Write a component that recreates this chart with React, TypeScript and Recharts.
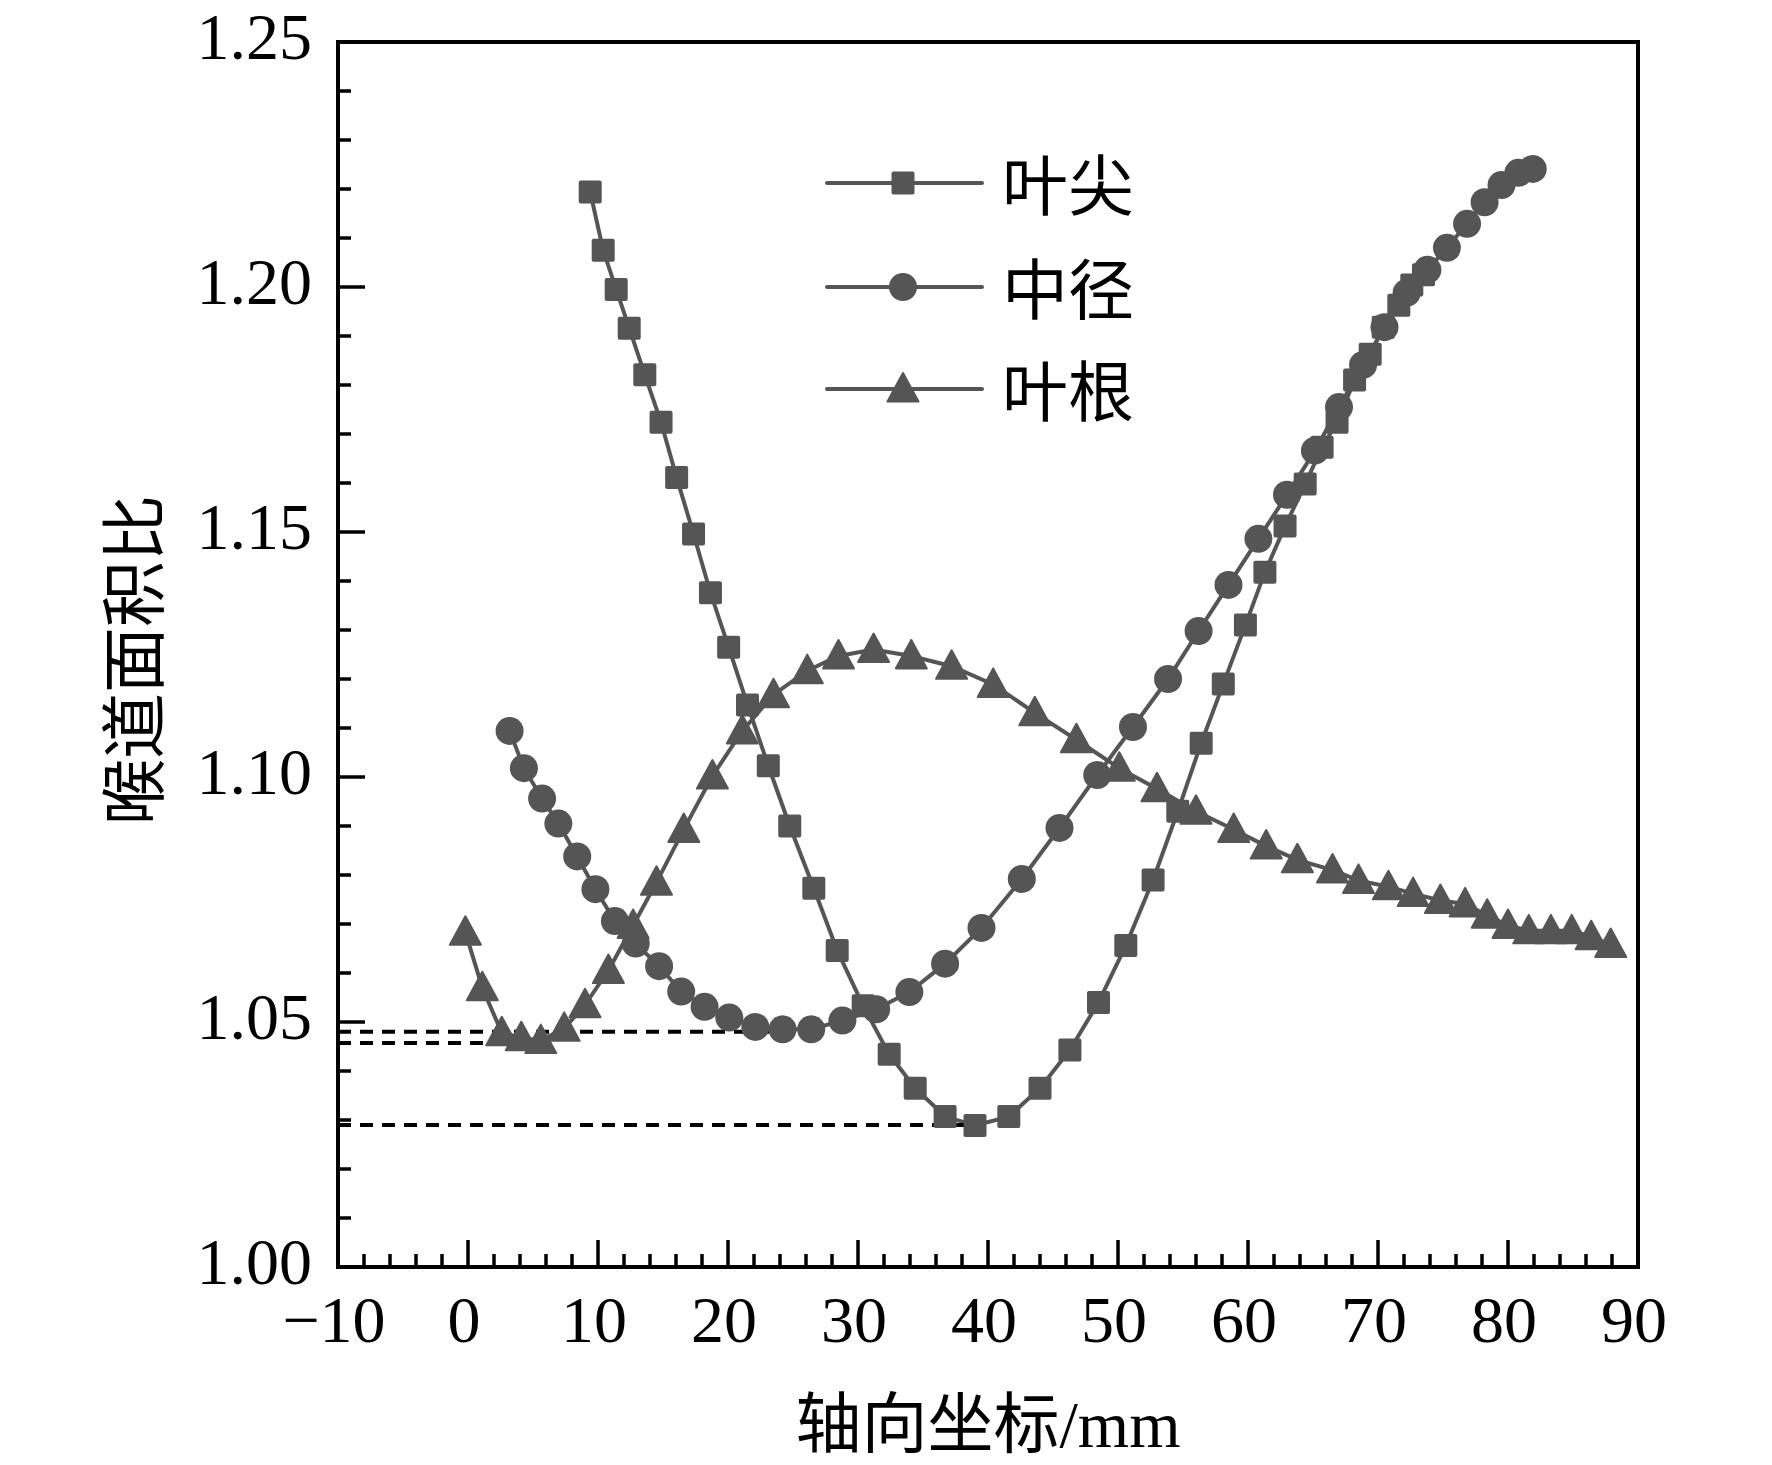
import React from "react";
import {
  LineChart,
  Line,
  XAxis,
  YAxis,
  ReferenceArea,
  Customized,
} from "recharts";

// 叶尖 (squares)
const tipX = [
  9.4, 10.4, 11.4, 12.4, 13.6, 14.85, 16.05, 17.35, 18.65, 20.05, 21.5, 23.1,
  24.75, 26.6, 28.4, 30.4, 32.4, 34.4, 36.7, 39.0, 41.6, 44.0, 46.3, 48.5,
  50.6, 52.7, 54.6, 56.4, 58.1, 59.8, 61.3, 62.85, 64.4, 65.7, 66.85, 68.2,
  69.4, 70.4, 71.6, 72.6, 73.5,
];
const tipY = [
  1.2194, 1.2075, 1.1995, 1.1916, 1.1821, 1.1724, 1.1611, 1.1496, 1.1376,
  1.1265, 1.1147, 1.1023, 1.09, 1.0773, 1.0646, 1.0533, 1.0434, 1.0365,
  1.0307, 1.0289, 1.0307, 1.0365, 1.0443, 1.054, 1.0656, 1.079, 1.093,
  1.1069, 1.119, 1.131, 1.1418, 1.1512, 1.1598, 1.1673, 1.1724, 1.181,
  1.1863, 1.1918, 1.1963, 1.2004, 1.2025,
];

// 中径 (circles)
const midX = [
  3.2, 4.3, 5.7, 6.95, 8.4, 9.8, 11.3, 12.9, 14.7, 16.4, 18.2, 20.1, 22.1,
  24.2, 26.4, 28.8, 31.4, 33.95, 36.7, 39.5, 42.6, 45.5, 48.4, 51.15, 53.85,
  56.2, 58.5, 60.8, 63.0, 65.15, 67.0, 68.85, 70.5, 72.2, 73.8, 75.3, 76.85,
  78.2, 79.5, 80.8, 81.9,
];
const midY = [
  1.1094, 1.1018, 1.0956, 1.0905, 1.0838, 1.0771, 1.0706, 1.066, 1.0614,
  1.0562, 1.0531, 1.0509, 1.049, 1.0485, 1.0485, 1.0503, 1.0526, 1.0561,
  1.0619, 1.0692, 1.0792, 1.0896, 1.1004, 1.1102, 1.12, 1.1298, 1.1392,
  1.1486, 1.1576, 1.1666, 1.1755, 1.1841, 1.1918, 1.1988, 1.2035, 1.208,
  1.2129, 1.2173, 1.2208, 1.2233, 1.2241,
];

// 叶根 (triangles)
const rootX = [
  -0.2, 1.1, 2.6, 4.1, 5.6, 7.4, 9.0, 10.8, 12.7, 14.5, 16.6, 18.8, 21.1,
  23.5, 26.1, 28.5, 31.2, 34.1, 37.2, 40.4, 43.6, 46.8, 50.1, 53.0, 56.0,
  58.9, 61.4, 63.8, 66.5, 68.5, 70.8, 72.7, 74.8, 76.7, 78.4, 80.0, 81.6,
  83.3, 84.9, 86.4, 87.9,
];
const rootY = [
  1.0683, 1.057, 1.0478, 1.0468, 1.0462, 1.0487, 1.0535, 1.0605, 1.0697,
  1.0785, 1.0893, 1.1002, 1.1094, 1.1168, 1.1217, 1.1247, 1.126, 1.1247,
  1.1226, 1.1189, 1.1131, 1.1076, 1.1018, 1.0976, 1.093, 1.0893, 1.0859,
  1.0831, 1.081, 1.0789, 1.0776, 1.0762, 1.0748, 1.0741, 1.0718, 1.0697,
  1.0686, 1.0686, 1.0686, 1.0674, 1.0658,
];

// dashed guide lines: level and where they stop
const guideLevels = [1.048, 1.0457, 1.029];
const guideEnds = [24.2, 5.3, 39.1];

const xMajor = [-10, 0, 10, 20, 30, 40, 50, 60, 70, 80, 90];
const yMajor = [1.0, 1.05, 1.1, 1.15, 1.2, 1.25];

const seriesNames = ["叶尖", "中径", "叶根"];

const GRAY = "#555555";
const FONT = "'Liberation Serif', 'Noto Sans CJK SC', serif";

const zip = (xs: number[], ys: number[]) =>
  xs.map((x, i) => ({ x, y: ys[i] }));

const tipData = zip(tipX, tipY);
const midData = zip(midX, midY);
const rootData = zip(rootX, rootY);

// minor ticks between the labelled ones
const xTicks: number[] = [];
xMajor.forEach((v, i) => {
  xTicks.push(v);
  if (i < xMajor.length - 1) for (let k = 1; k < 5; k++) xTicks.push(v + k * 2);
});
const yTicks: number[] = [];
yMajor.forEach((v, i) => {
  yTicks.push(v);
  if (i < yMajor.length - 1)
    for (let k = 1; k < 5; k++) yTicks.push(Math.round((v + k * 0.01) * 100) / 100);
});

const isMajorY = (v: number) => yMajor.some((m) => Math.abs(m - v) < 1e-6);

function XTick({ x, y, payload }: any) {
  const v = payload.value;
  const major = xMajor.includes(v);
  return (
    <g>
      <line x1={x} x2={x} y1={y} y2={y - (major ? 27 : 13)} stroke="#000" strokeWidth={3.5} />
      {major && (
        <text x={x - 4} y={y + 75} textAnchor="middle" fontFamily={FONT} fontSize={66} fill="#000">
          {v < 0 ? `\u2212${Math.abs(v)}` : v}
        </text>
      )}
    </g>
  );
}

function YTick({ x, y, payload }: any) {
  const v = payload.value;
  const major = isMajorY(v);
  return (
    <g>
      <line x1={x} x2={x + (major ? 27 : 13)} y1={y} y2={y} stroke="#000" strokeWidth={3.5} />
      {major && (
        <text x={x - 26} y={y + 17} textAnchor="end" fontFamily={FONT} fontSize={66} fill="#000">
          {v.toFixed(2)}
        </text>
      )}
    </g>
  );
}

const Square = ({ cx, cy }: any) => (
  <rect x={cx - 11.5} y={cy - 11.5} width={23} height={23} rx={2} fill={GRAY} />
);
const Circle = ({ cx, cy }: any) => <circle cx={cx} cy={cy} r={14} fill={GRAY} />;
const Triangle = ({ cx, cy }: any) => (
  <polygon
    points={`${cx},${cy - 16} ${cx - 15.5},${cy + 12.5} ${cx + 15.5},${cy + 12.5}`}
    fill={GRAY}
    stroke={GRAY}
    strokeWidth={2}
    strokeLinejoin="round"
  />
);

const markers = [Square, Circle, Triangle];

function LegendBox() {
  const rows = [183, 287, 389];
  return (
    <g>
      {seriesNames.map((name, i) => {
        const M = markers[i];
        return (
          <g key={name}>
            <line x1={827} x2={982} y1={rows[i]} y2={rows[i]} stroke={GRAY} strokeWidth={4} strokeLinecap="round" />
            <M cx={903} cy={rows[i]} />
            <text x={1002} y={rows[i] + 27} fontFamily={FONT} fontSize={66} fill="#000">
              {name}
            </text>
          </g>
        );
      })}
    </g>
  );
}

function AxisTitles() {
  return (
    <g>
      <text x={988} y={1447} textAnchor="middle" fontFamily={FONT} fontSize={66} fill="#000">
        轴向坐标/mm
      </text>
      <text
        x={158}
        y={660}
        textAnchor="middle"
        fontFamily={FONT}
        fontSize={66}
        fill="#000"
        transform="rotate(-90 158 660)"
      >
        喉道面积比
      </text>
    </g>
  );
}

export default function App() {
  return (
    <div style={{ position: "absolute", left: 0, top: 0, background: "#fff" }}>
      <LineChart
        width={1772}
        height={1465}
        margin={{ top: 42, right: 134, bottom: 0, left: 0 }}
      >
        <XAxis
          type="number"
          dataKey="x"
          domain={[-10, 90]}
          ticks={xTicks}
          interval={0}
          height={198}
          tickSize={0}
          tickMargin={0}
          tick={<XTick />}
          axisLine={{ stroke: "#000", strokeWidth: 4 }}
          allowDataOverflow
        />
        <YAxis
          type="number"
          domain={[1.0, 1.25]}
          ticks={yTicks}
          interval={0}
          width={338}
          tickSize={0}
          tickMargin={0}
          tick={<YTick />}
          axisLine={{ stroke: "#000", strokeWidth: 4 }}
          allowDataOverflow
        />
        <ReferenceArea
          x1={-10}
          x2={90}
          y1={1.0}
          y2={1.25}
          fill="none"
          fillOpacity={0}
          stroke="#000"
          strokeWidth={4}
        />
        <Line
          data={tipData}
          dataKey="y"
          name={seriesNames[0]}
          type="linear"
          stroke={GRAY}
          strokeWidth={4}
          dot={(p: any) => <Square key={`s${p.index}`} cx={p.cx} cy={p.cy} />}
          isAnimationActive={false}
        />
        <Line
          data={midData}
          dataKey="y"
          name={seriesNames[1]}
          type="linear"
          stroke={GRAY}
          strokeWidth={4}
          dot={(p: any) => <Circle key={`c${p.index}`} cx={p.cx} cy={p.cy} />}
          isAnimationActive={false}
        />
        <Line
          data={rootData}
          dataKey="y"
          name={seriesNames[2]}
          type="linear"
          stroke={GRAY}
          strokeWidth={4}
          dot={(p: any) => <Triangle key={`t${p.index}`} cx={p.cx} cy={p.cy} />}
          isAnimationActive={false}
        />
        {guideLevels.map((lv, i) => (
          <Line
            key={`g${i}`}
            data={[
              { x: -10, y: lv },
              { x: guideEnds[i], y: lv },
            ]}
            dataKey="y"
            type="linear"
            stroke="#000"
            strokeWidth={4}
            strokeDasharray="13 9"
            dot={false}
            isAnimationActive={false}
          />
        ))}
        <Customized component={LegendBox} />
        <Customized component={AxisTitles} />
      </LineChart>
    </div>
  );
}
